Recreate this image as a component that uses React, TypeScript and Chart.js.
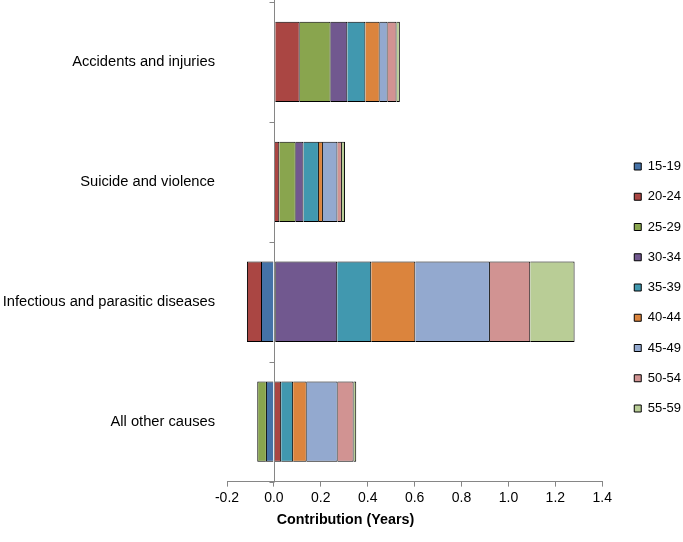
import React, { useEffect, useRef } from 'react';
import { Chart, registerables } from 'chart.js';

Chart.register(...registerables);

const FONT = "'Liberation Sans', Arial, sans-serif";

const categories = [
  'Accidents and injuries',
  'Suicide and violence',
  'Infectious and parasitic diseases',
  'All other causes',
];

const ageGroups = ['15-19', '20-24', '25-29', '30-34', '35-39', '40-44', '45-49', '50-54', '55-59'];

const ageColors = ['#4572A7', '#AA4643', '#89A54E', '#71588F', '#4198AF', '#DB843D', '#93A9CF', '#D19392', '#B9CD96'];

// contributions (years) per category, in category order
const age15_19 = [0.006, 0, -0.055, -0.034];
const age20_24 = [0.104, 0.023, -0.06, 0.031];
const age25_29 = [0.132, 0.07, 0.008, -0.037];
const age30_34 = [0.071, 0.033, 0.262, 0];
const age35_39 = [0.077, 0.066, 0.145, 0.051];
const age40_44 = [0.061, 0.017, 0.188, 0.058];
const age45_49 = [0.034, 0.062, 0.318, 0.132];
const age50_54 = [0.038, 0.019, 0.172, 0.068];
const age55_59 = [0.014, 0.013, 0.189, 0.011];

const seriesValues = [age15_19, age20_24, age25_29, age30_34, age35_39, age40_44, age45_49, age50_54, age55_59];

const xTickValues = [-0.2, 0, 0.2, 0.4, 0.6, 0.8, 1.0, 1.2, 1.4];
const xTickLabels = ['-0.2', '0.0', '0.2', '0.4', '0.6', '0.8', '1.0', '1.2', '1.4'];

const AXIS_GRAY = '#868686';

export default function App() {
  const ref = useRef<HTMLCanvasElement>(null);

  useEffect(() => {
    document.body.style.margin = '0';
    const canvas = ref.current;
    if (!canvas) return;

    const zeroAxis = {
      id: 'zeroAxis',
      afterDatasetsDraw(chart: any) {
        const { ctx, chartArea, scales } = chart;
        const x0 = Math.round(scales.x.getPixelForValue(0)) + 0.5;
        ctx.save();
        ctx.strokeStyle = AXIS_GRAY;
        ctx.lineWidth = 1;
        ctx.beginPath();
        ctx.moveTo(x0, chartArea.top - 2);
        ctx.lineTo(x0, chartArea.bottom);
        for (let i = 0; i <= categories.length; i++) {
          const y = Math.round(scales.y.getPixelForValue(i - 0.5)) + 0.5;
          ctx.moveTo(x0 - 5, y);
          ctx.lineTo(x0, y);
        }
        ctx.stroke();
        ctx.restore();
      },
    };

    const chart = new Chart(canvas, {
      type: 'bar',
      data: {
        labels: categories,
        datasets: ageGroups.map((g, i) => ({
          label: g,
          data: seriesValues[i],
          backgroundColor: ageColors[i],
          borderColor: '#000',
          borderWidth: 1,
          xAxisID: 'x',
          yAxisID: 'y',
        })),
      },
      options: {
        indexAxis: 'y',
        responsive: false,
        animation: false,
        layout: { padding: { left: 0, right: -8, top: 0, bottom: 0 } },
        datasets: { bar: { barPercentage: 0.67, categoryPercentage: 1 } },
        scales: {
          x: {
            type: 'linear',
            stacked: true,
            min: -0.2,
            max: 1.4,
            afterBuildTicks: (s: any) => {
              s.ticks = xTickValues.map((v) => ({ value: v }));
            },
            afterFit: (s: any) => {
              s.height = 25.4;
            },
            ticks: {
              padding: 3.6,
              color: '#000',
              font: { size: 14, family: FONT },
              callback: (_v: any, i: number) => xTickLabels[i],
            },
            grid: { drawOnChartArea: false, drawTicks: true, tickLength: 5, color: AXIS_GRAY },
            border: { display: true, color: AXIS_GRAY },
          },
          y: {
            type: 'category',
            stacked: true,
            grid: { display: false, drawTicks: false },
            border: { display: false },
            ticks: { padding: 12, color: '#000', font: { size: 14.7, family: FONT } },
            afterFit: (s: any) => {
              s.width = 227;
              s.paddingTop = 2;
              s.paddingBottom = 0;
            },
          },
          pad: {
            type: 'linear',
            axis: 'y',
            position: 'right',
            display: true,
            grid: { display: false, drawTicks: false },
            border: { display: false },
            ticks: { display: false },
            afterFit: (s: any) => {
              s.width = 14.75;
              s.paddingTop = 0;
              s.paddingBottom = 0;
            },
          },
        },
        plugins: {
          tooltip: { enabled: false },
          title: {
            display: true,
            text: 'Contribution (Years)',
            position: 'bottom',
            color: '#000',
            font: { size: 14.3, weight: 'bold', family: FONT },
            padding: { top: 4.2, bottom: 13.6 },
          },
          legend: {
            position: 'right',
            align: 'center',
            title: { display: true, text: '', padding: { top: 8.7, bottom: 8.7 }, font: { size: 13, family: FONT } },
            labels: {
              boxWidth: 7,
              boxHeight: 7,
              padding: 17.25,
              color: '#000',
              font: { size: 13, family: FONT },
            },
          },
        },
      },
      plugins: [zeroAxis],
    } as any);

    return () => chart.destroy();
  }, []);

  return (
    <div style={{ width: 683, height: 542 }}>
      <canvas ref={ref} width={683} height={542} />
    </div>
  );
}
